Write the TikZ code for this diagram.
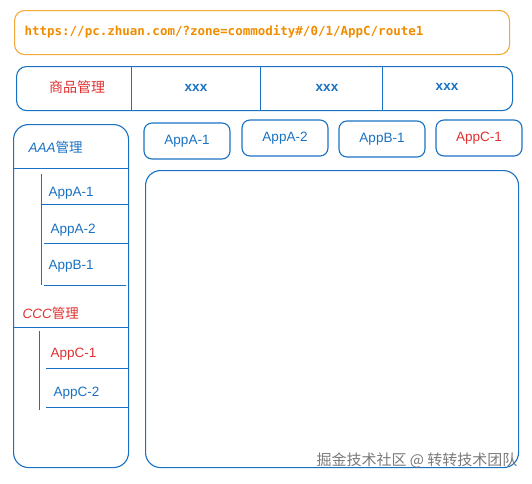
\documentclass[tikz,border=0pt]{standalone}
\usepackage{fontspec}
\setmainfont{Liberation Sans}
\setmonofont{DejaVu Sans Mono}
\newfontfamily\cjk{Noto Sans CJK SC}
\definecolor{exblue}{HTML}{1971C2}
\definecolor{exred}{HTML}{E03131}
\definecolor{exorange}{HTML}{F08C00}
\definecolor{exorangeline}{HTML}{F2A93B}
\definecolor{wmgray}{HTML}{7A7A7A}
\begin{document}
\begin{tikzpicture}[x=1pt,y=-1pt,line width=1.1pt,
  urlbox/.style={draw=exorangeline,rounded corners=10pt,inner sep=0pt,anchor=north west},
  bluebox/.style={draw=exblue,rounded corners=10pt,inner sep=0pt},
  bigbox/.style={draw=exblue,rounded corners=15pt,inner sep=0pt,anchor=north west},
  tabbox/.style={draw=exblue,rounded corners=8pt,inner sep=0pt,minimum width=86pt,minimum height=36pt,font=\fontsize{13.5}{15}\selectfont},
  sep/.style={draw=exblue,line width=1pt},
  lbl/.style={inner sep=0pt,font=\fontsize{13.5}{15}\selectfont},
  bluetext/.style={lbl,text=exblue},
  redtext/.style={lbl,text=exred}]
\useasboundingbox (0,0) rectangle (532,483);

% URL bar
\node[urlbox,minimum width=495pt,minimum height=44pt] (url) at (14,10) {};
\node[anchor=west,inner sep=0pt,text=exorange,font=\ttfamily\bfseries\fontsize{12.5}{14}\selectfont] (urltext) at (24,32) {https://pc.zhuan.com/?zone=commodity\#/0/1/AppC/route1};

% navigation bar
\node[bluebox,anchor=north west,minimum width=496pt,minimum height=44pt] (nav) at (16,66) {};
\coordinate (d1) at (131,0);
\coordinate (d2) at (260,0);
\coordinate (d3) at (382,0);
\draw[sep] (nav.north -| d1) -- (nav.south -| d1);
\draw[sep] (nav.north -| d2) -- (nav.south -| d2);
\draw[sep] (nav.north -| d3) -- (nav.south -| d3);
\node[redtext,font=\cjk\fontsize{14}{16}\selectfont] (nav1) at (77,87) {商品管理};
\node[bluetext,font=\bfseries\fontsize{13.5}{15}\selectfont] (nav2) at (196,88) {xxx};
\node[bluetext,font=\bfseries\fontsize{13.5}{15}\selectfont] (nav3) at (327,88) {xxx};
\node[bluetext,font=\bfseries\fontsize{13.5}{15}\selectfont] (nav4) at (447,87) {xxx};

% sidebar
\node[bigbox,minimum width=115pt,minimum height=343pt] (side) at (13,124) {};
\node[bluetext,anchor=west] (aaa) at (28,147) {\itshape AAA\upshape{\cjk 管理}};
\draw[sep] (14,168) -- (128,168);
\draw[sep] (41,174) -- (41,285);
\node[bluetext,anchor=west] (sa1) at (48,193) {AppA-1};
\draw[sep] (41,204) -- (128,204);
\node[bluetext,anchor=west] (sa2) at (50,230) {AppA-2};
\draw[sep] (44,243) -- (128,243);
\node[bluetext,anchor=west] (sb1) at (48,266) {AppB-1};
\draw[sep] (44,285) -- (126,285);
\node[redtext,anchor=west] (ccc) at (22,313) {\itshape CCC\upshape{\cjk 管理}};
\draw[sep] (13,327) -- (128,327);
\draw[sep] (39,331) -- (39,410);
\node[redtext,anchor=west] (sc1) at (50,354) {AppC-1};
\draw[sep] (46,368) -- (129,368);
\node[bluetext,anchor=west] (sc2) at (53,393) {AppC-2};
\draw[sep] (46,407) -- (128,407);

% tabs
\node[tabbox,text=exblue] (tab1) at (187,141) {AppA-1};
\node[tabbox,text=exblue] (tab2) at (285,138) {AppA-2};
\node[tabbox,text=exblue] (tab3) at (382,139) {AppB-1};
\node[tabbox,text=exred] (tab4) at (479,138) {AppC-1};

% content area
\node[bigbox,minimum width=373pt,minimum height=297pt] (content) at (145,170) {};

% watermark
\node[anchor=east,inner sep=0pt,text=wmgray,font=\cjk\fontsize{15}{17}\selectfont] (wm) at (518,460) {掘金技术社区 @ 转转技术团队};
\end{tikzpicture}
\end{document}
